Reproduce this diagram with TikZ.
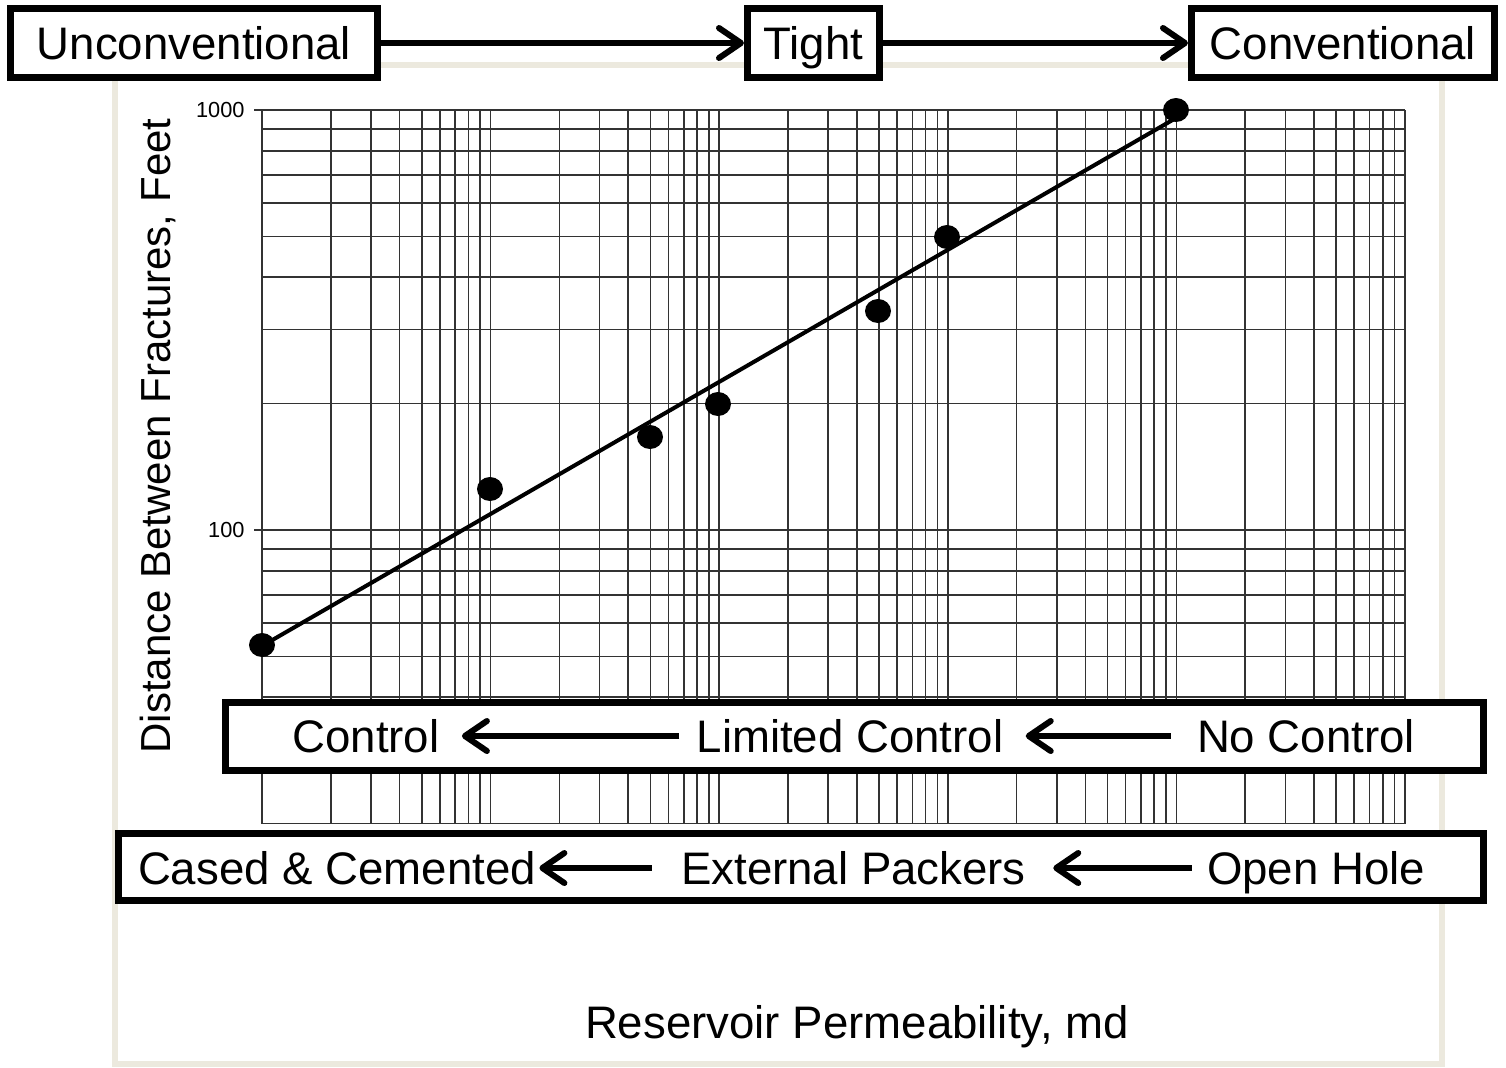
\documentclass[tikz,border=0pt]{standalone}
\usepackage{fontspec}
\setmainfont{Liberation Sans}
\usetikzlibrary{arrows.meta, positioning}

\definecolor{framebeige}{RGB}{236,233,222}

\begin{document}
\begin{tikzpicture}[x=0.5pt, y=-0.5pt,
    bigtext/.style={font=\fontsize{22.8}{26}\selectfont, inner sep=0pt, text height=16.3pt, text depth=0pt},
    stagebox/.style={bigtext, draw, line width=3.5pt, fill=white, minimum height=34.5pt},
    bandbox/.style={draw, line width=3.5pt, fill=white, inner sep=0pt},
    flow/.style={line width=3pt, -{Straight Barb[length=11pt, width=15pt, round]}},
    gridline/.style={black!80, line width=0.8pt},
    ticklabel/.style={anchor=east, inner sep=0pt, font=\fontsize{10.9}{12}\selectfont}]

  \useasboundingbox (0,0) rectangle (1506,1067);

  % Draw the frame
  \draw[framebeige, line width=3pt] (115,65) rectangle (1442,1064);

  % log-log grid
  \foreach \d in {0,...,4}
    \foreach \m in {1,...,9}
      \draw[gridline] ({262+228.6*(\d+log10(\m))},110) -- ({262+228.6*(\d+log10(\m))},824);
  \draw[gridline] (1405,110) -- (1405,824);
  \foreach \v in {20,30,40,50,60,70,80,90,100,200,300,400,500,600,700,800,900,1000}
    \draw[gridline] (262,{110+420*(3-log10(\v))}) -- (1405,{110+420*(3-log10(\v))});

  % y ticks
  \draw[gridline] (254,110) -- (262,110);
  \draw[gridline] (254,530) -- (262,530);
  \node[ticklabel] (TickThousand) at (245,110) {1000};
  \node[ticklabel] (TickHundred) at (245,530) {100};

  % Draw the fitted line and the data
  \draw[line width=2pt] (262,646) -- (1176,118);
  \foreach \ptx/\pty in {262/645, 490/489, 650/437, 718/404, 878/311, 947/237, 1176/110}
    \fill (\ptx,\pty) ellipse [x radius=6.5pt, y radius=6pt];

  % axis labels
  \node[rotate=90, inner sep=0pt, font=\fontsize{21}{24}\selectfont] (YLabel) at (158,436) {Distance Between Fractures, Feet};
  \node[bigtext] (XLabel) at (857,1022) {Reservoir Permeability, md};

  % reservoir types
  \node[stagebox, minimum width=183.5pt] (Unconv) at (194,43) {Unconventional};
  \node[stagebox, minimum width=66pt] (Tight) at (813.5,43) {Tight};
  \node[stagebox, minimum width=151.5pt] (Conv) at (1343,43) {Conventional};

  \draw[flow] (Unconv) -- (Tight);
  \draw[flow] (Tight) -- (Conv);

  % control band
  \node[bandbox, minimum width=629pt, minimum height=34pt] (ControlBand) at (854.5,736.5) {};
  \node[bigtext] (Control) at (366,736) {Control};
  \node[bigtext] (LimControl) at (850,736) {Limited Control};
  \node[bigtext] (NoControl) at (1306,736) {No Control};

  \draw[flow, shorten <=8.5pt, shorten >=11pt] (LimControl) -- (Control);
  \draw[flow, shorten <=13pt, shorten >=11pt] (NoControl) -- (LimControl);

  % completion band
  \node[bandbox, minimum width=682.5pt, minimum height=33.5pt] (CompletionBand) at (801,867) {};
  \node[bigtext] (Cased) at (337,868) {Cased \& Cemented};
  \node[bigtext] (Packers) at (853.5,868) {External Packers};
  \node[bigtext] (OpenHole) at (1316,868) {Open Hole};

  \draw[flow, shorten <=14.5pt, shorten >=1.5pt] (Packers) -- (Cased);
  \draw[flow, shorten <=7.5pt, shorten >=13.5pt] (OpenHole) -- (Packers);

\end{tikzpicture}
\end{document}
